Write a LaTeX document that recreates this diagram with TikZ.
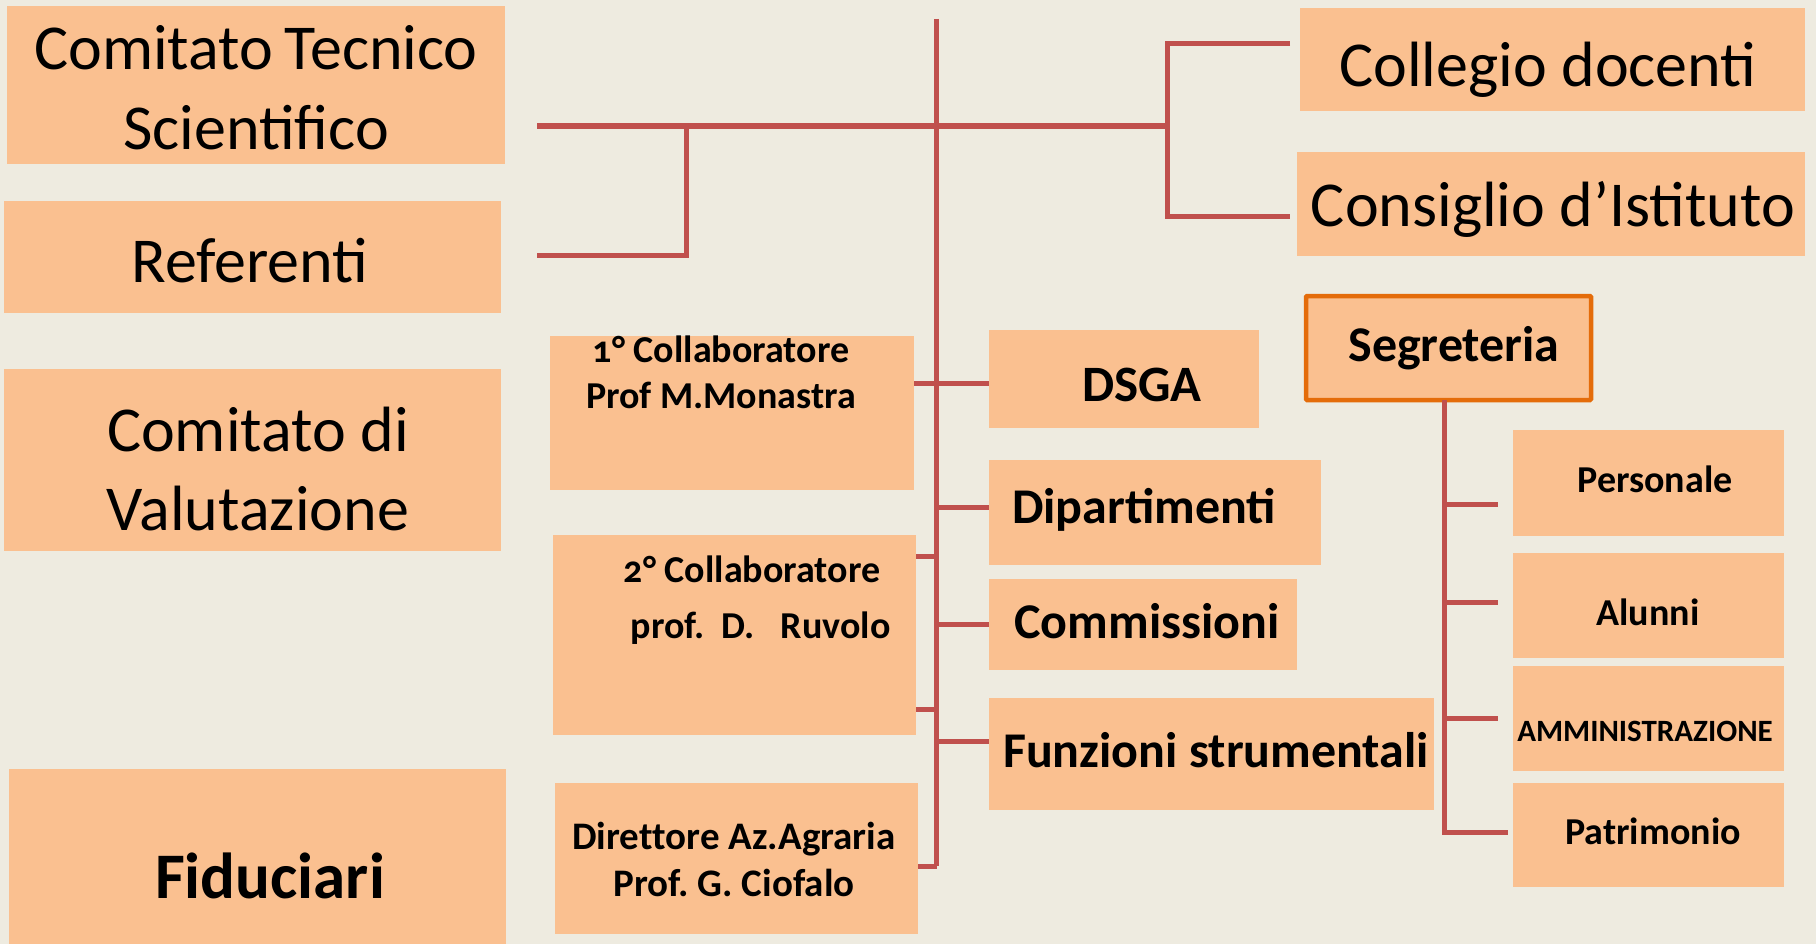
\documentclass[tikz,border=0pt]{standalone}
\usepackage{fontspec}
\setmainfont{Carlito}
\newfontfamily\oldnum{Carlito}[Numbers=OldStyle]
\frenchspacing

\definecolor{bgbeige}{HTML}{EEEBE0}
\definecolor{boxfill}{HTML}{FAC090}
\definecolor{wirered}{HTML}{C0504D}
\definecolor{segorange}{HTML}{E46C0A}

\begin{document}
\begin{tikzpicture}[x=1pt,y=-1pt,
  box/.style={fill=boxfill, inner sep=0pt, outer sep=0pt},
  wire/.style={draw=wirered, line width=5pt},
  txt/.style={inner sep=0pt, align=center, anchor=base}]
  \useasboundingbox (0,0) rectangle (1816,944);
  \fill[bgbeige] (0,0) rectangle (1816,944);

  % left column
  \node[box, minimum width=498pt, minimum height=158pt] (cts) at (256,85) {};
  \node[txt, font=\fontsize{64}{80}\selectfont] (ctsT) at (256,150) {Comitato\hspace{-3pt} Tecnico\\Scientifico};
  \node[box, minimum width=497pt, minimum height=112pt] (ref) at (252.5,257) {};
  \node[txt, font=\fontsize{64}{80}\selectfont] (refT) at (250,283) {Referenti};
  \node[box, minimum width=497pt, minimum height=182pt] (cdv) at (252.5,460) {};
  \node[txt, font=\fontsize{64}{79}\selectfont] (cdvT) at (258,530) {Comitato di\\Valutazione};
  \node[box, minimum width=497pt, minimum height=175pt] (fid) at (257.5,856.5) {};
  \node[txt, font=\bfseries\fontsize{65}{80}\selectfont] (fidT) at (270,898) {Fiduciari};

  % right top
  \node[box, minimum width=505pt, minimum height=103pt] (cold) at (1552.5,59.5) {};
  \node[txt, font=\fontsize{64}{80}\selectfont] (coldT) at (1548,87) {Collegio docenti};
  \node[box, minimum width=508pt, minimum height=104pt] (cdi) at (1551,204.5) {};
  \node[txt, font=\fontsize{64}{80}\selectfont] (cdiT) at (1553,227) {Consiglio d’Istituto};

  % collaboratori
  \node[box, minimum width=364pt, minimum height=154pt] (col1) at (732,413) {};
  \node[txt, font=\oldnum\bfseries\fontsize{38}{46}\selectfont] (col1T) at (721,408) {1° Collaboratore\\Prof M.Monastra};
  \node[box, minimum width=363pt, minimum height=200pt] (col2) at (734.5,635) {};
  \node[txt, font=\oldnum\bfseries\fontsize{38}{56}\selectfont] (col2T) at (752,638) {2° Collaboratore\\\ \ prof.\ \ D.\ \ \ Ruvolo};
  \node[box, minimum width=363pt, minimum height=151pt] (dir) at (736.5,858.5) {};
  \node[txt, font=\bfseries\fontsize{39}{47}\selectfont] (dirT) at (734,896) {Diret\kern0pt tore Az.Agraria\\Prof. G. Ciofalo};

  % uffici
  \node[box, minimum width=270pt, minimum height=98pt] (dsga) at (1124,379) {};
  \node[txt, font=\bfseries\fontsize{51}{60}\selectfont] (dsgaT) at (1142,401) {DSGA};
  \node[box, minimum width=332pt, minimum height=105pt] (dip) at (1155,512.5) {};
  \node[txt, font=\bfseries\fontsize{50}{60}\selectfont] (dipT) at (1144,523) {Dipartimenti};
  \node[box, minimum width=308pt, minimum height=91pt] (com) at (1143,624) {};
  \node[txt, font=\bfseries\fontsize{50}{60}\selectfont] (comT) at (1147,638) {Commissioni};
  \node[box, minimum width=445pt, minimum height=112pt] (fun) at (1211.5,754) {};
  \node[txt, font=\bfseries\fontsize{50}{60}\selectfont] (funT) at (1216,767) {Funzioni strumentali};

  % segreteria
  \node[box, draw=segorange, line width=4.5pt, rounded corners=1pt, minimum width=285pt, minimum height=104pt] (seg) at (1448.5,348) {};
  \node[txt, font=\bfseries\fontsize{50}{60}\selectfont] (segT) at (1454,361) {Segreteria};
  \node[box, minimum width=271pt, minimum height=106pt] (pers) at (1648.5,483) {};
  \node[txt, font=\bfseries\fontsize{38}{46}\selectfont] (persT) at (1655,492) {Personale};
  \node[box, minimum width=271pt, minimum height=105pt] (alu) at (1648.5,605.5) {};
  \node[txt, font=\bfseries\fontsize{38}{46}\selectfont] (aluT) at (1648,625) {Alunni};
  \node[box, minimum width=271pt, minimum height=105pt] (amm) at (1648.5,718.5) {};
  \node[txt, font=\bfseries\fontsize{31}{40}\selectfont] (ammT) at (1645,741) {AMMINISTRAZIONE};
  \node[box, minimum width=271pt, minimum height=104pt] (pat) at (1648.5,835) {};
  \node[txt, font=\bfseries\fontsize{38}{46}\selectfont] (patT) at (1653,844) {Patrimonio};

  % connectors
  \coordinate (spinetop) at (936.5,19);
  \coordinate (spinebot) at (936.5,866);
  \coordinate (hubL) at (537,126);
  \coordinate (hubR) at (1167,126);
  \coordinate (refknee) at (686,256);
  \coordinate (refend) at (537,256);
  \coordinate (colknee) at (1167,44);
  \coordinate (cdiknee) at (1167,217);
  \coordinate (segbot) at (1444,832);

  \draw[wire, line width=6pt] (hubL) -- (hubR);
  \draw[wire] (refknee |- hubL) -- (refknee) -- (refend);
  \draw[wire] ([xshift=-10pt]cold.west |- colknee) -- (colknee) -- (cdiknee) -- ([xshift=-7pt]cdi.west |- cdiknee);
  \draw[wire] (spinetop) -- (spinebot);
  \draw[wire] (col1.east |- 0,383) -- (dsga.west |- 0,383);
  \draw[wire] (spinetop |- 0,507) -- (dip.west |- 0,507);
  \draw[wire] (col2.east |- 0,556) -- (spinetop |- 0,556);
  \draw[wire] (spinetop |- com.west) -- (com.west);
  \draw[wire] (col2.east |- 0,709) -- (spinetop |- 0,709);
  \draw[wire] (spinetop |- 0,741) -- (fun.west |- 0,741);
  \draw[wire] (dir.east |- spinebot) -- (spinebot);

  \draw[wire] (segbot |- seg.south) -- (segbot) -- ([xshift=-5pt]pat.west |- segbot);
  \draw[wire] (segbot |- 0,504) -- ([xshift=-15pt]pers.west |- 0,504);
  \draw[wire] (segbot |- 0,602) -- ([xshift=-15pt]alu.west |- 0,602);
  \draw[wire] (segbot |- 0,718) -- ([xshift=-15pt]amm.west |- 0,718);
\end{tikzpicture}
\end{document}
